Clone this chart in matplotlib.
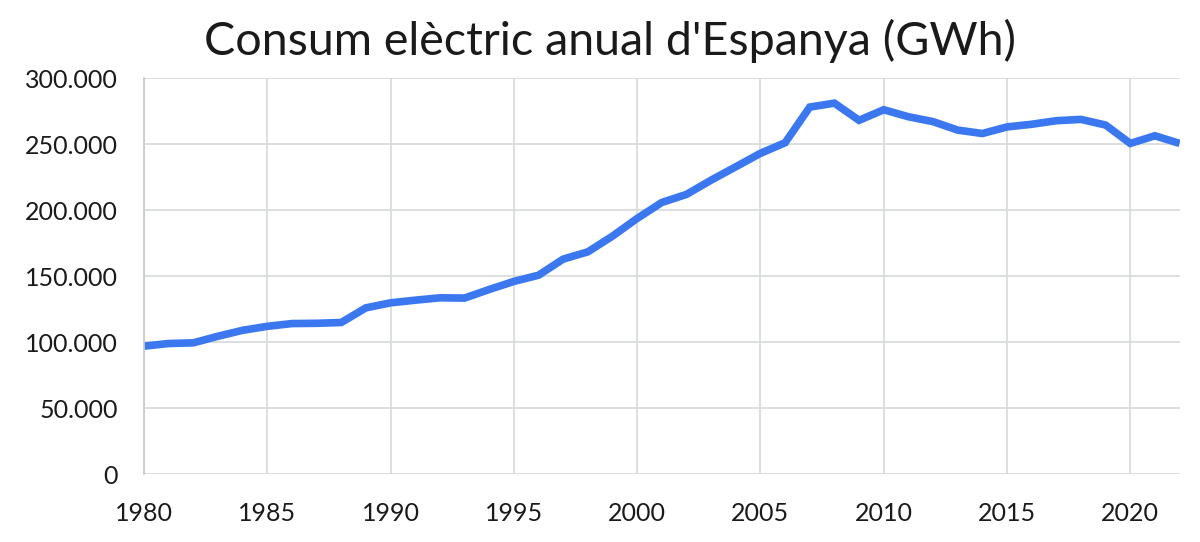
import numpy as np
import matplotlib.pyplot as plt
from matplotlib.ticker import FuncFormatter

# Annual electricity consumption in Spain (GWh)
years = list(range(1980, 2023))
consum = [97000, 99000, 99500, 104500, 109000, 112000, 114100, 114300, 114900, 126000,
          129800, 131800, 133600, 133400, 139900, 146000, 150700, 162900, 168400, 180300,
          193700, 205800, 211900, 222700, 232800, 243000, 251000, 278000, 281000, 268000,
          276000, 270700, 267000, 260600, 258000, 263000, 265000, 267700, 268700, 264400,
          250500, 256300, 250500]

plt.rcParams['font.family'] = ['Lato', 'DejaVu Sans']

fig = plt.figure(figsize=(12, 5.42), dpi=100)
ax = fig.add_axes([0.12, 0.125, 0.863, 0.731])

ax.plot(years, consum, color='#3b78f0', lw=5.5, solid_joinstyle='miter', solid_capstyle='butt')

ax.set_xlim(1980, 2022)
ax.set_ylim(0, 300000)
ax.set_xticks(range(1980, 2021, 5))
ax.set_yticks(range(0, 300001, 50000))
ax.yaxis.set_major_formatter(FuncFormatter(lambda v, pos: f'{int(v):,}'.replace(',', '.')))

ax.grid(True, color='#d9dcdc', lw=1.3)
ax.set_axisbelow(True)
for s in ['top', 'right', 'bottom']:
    ax.spines[s].set_visible(False)
ax.spines['left'].set_color('#c8cccc')
ax.spines['left'].set_linewidth(1.3)
ax.tick_params(length=0, labelsize=18, colors='#1a1a1a')
ax.tick_params(axis='y', pad=19)
ax.tick_params(axis='x', pad=20)

fig.text(0.508, 0.925, "Consum elèctric anual d'Espanya (GWh)", ha='center', va='center',
         fontsize=33.6, color='#1a1a1a')

fig.savefig('out.png', dpi=100)
